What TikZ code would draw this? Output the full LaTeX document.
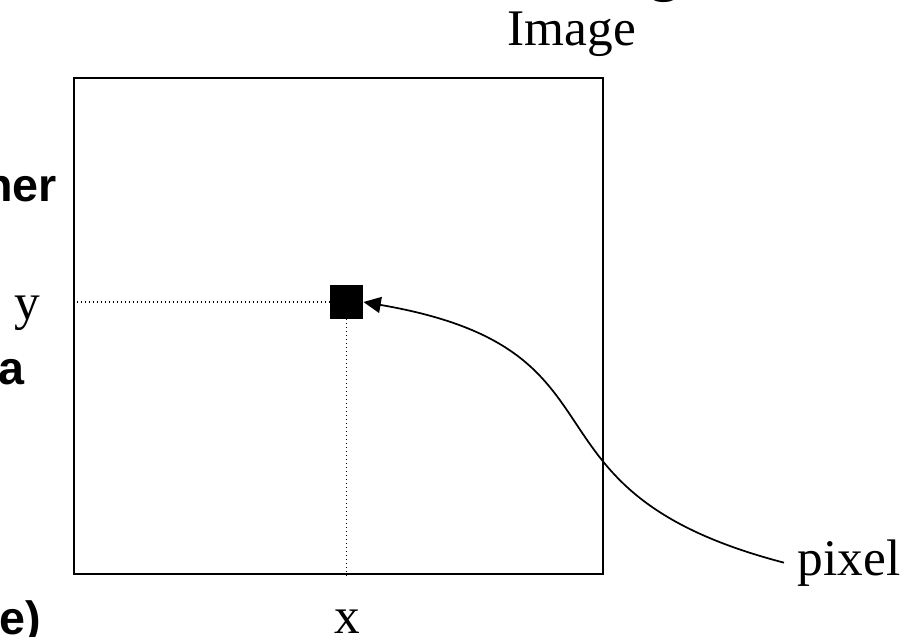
\documentclass[tikz,border=0pt]{standalone}
\usepackage{fontspec}
\setmainfont{Liberation Serif}
\newfontfamily\slidesans{Liberation Sans}
\usepackage{tikz}
\usetikzlibrary{positioning,arrows.meta}

\begin{document}
\begin{tikzpicture}[
    x=0.75pt,
    y=-0.75pt,
    label/.style={
        inner sep=0pt,
        font=\fontsize{38.5}{41}\selectfont
    },
    cut/.style={
        inner sep=0pt,
        font=\slidesans\bfseries\fontsize{35}{38}\selectfont
    },
    frame/.style={
        rectangle,
        draw=black,
        line width=1.5pt,
        minimum width=396.75pt,
        minimum height=372pt,
        inner sep=0pt
    },
    pixelbox/.style={
        rectangle,
        fill=black,
        minimum size=25pt,
        inner sep=0pt
    },
    guide/.style={
        dotted,
        line width=1pt
    },
    arrow/.style={
        -{Triangle[length=13pt,width=12pt]},
        line width=1.3pt
    }
]

\useasboundingbox (0,0) rectangle (903,636);

\node[cut, anchor=base west, font=\slidesans\bfseries\fontsize{50}{52}\selectfont] (titleg) at (644,-12) {g};
\node[cut, anchor=base east] (bulletone)   at (57,201) {ner};
\node[cut, anchor=base east] (bullettwo)   at (25,384) {a};
\node[cut, anchor=base east] (bulletthree) at (41,634) {e)};

\node[label, anchor=base] (title) at (572,45) {Image};

\node[frame] (image) at (338.5,326) {};
\node[pixelbox] (pix) at (346.5,302) {};

\node[label, anchor=base] (ylabel) at (27,319) {y};
\node[label, anchor=base] (xlabel) at (347,633) {x};
\node[label, anchor=base west, inner xsep=10pt] (pixlabel) at (784,575) {pixel};

\draw[guide] (image.west |- pix.west) -- (pix.west);
\draw[guide] (pix.south) -- (pix.south |- image.south);

\draw[arrow] (pixlabel.west) .. controls +(-280,-73) and +(280,48) .. (pix.east);

\end{tikzpicture}
\end{document}
